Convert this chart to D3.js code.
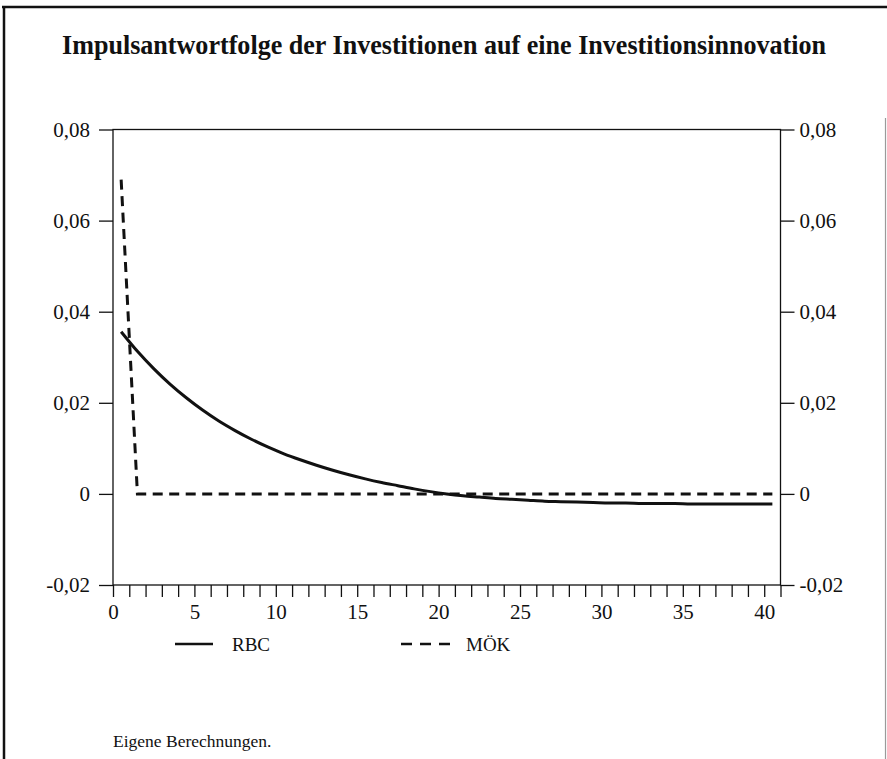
<!DOCTYPE html>
<html>
<head>
<meta charset="utf-8">
<script src="https://cdn.jsdelivr.net/npm/d3@7"></script>
<style>
  html, body { margin: 0; padding: 0; background: #fff; }
  svg { display: block; }
  text { font-family: "Liberation Serif", "Times New Roman", serif; fill: #111; }
</style>
</head>
<body>
<svg id="chart" width="887" height="759"></svg>
<script>
// Periods 0..40, plotted at the centre of each period
const periods = d3.range(0, 41);

// Impulse responses of investment
const rbcValues = [
  0.0356, 0.0313, 0.0275, 0.0241, 0.0211, 0.0184, 0.0160, 0.0139, 0.0120, 0.0103,
  0.0088, 0.0075, 0.0063, 0.0052, 0.0042, 0.0033, 0.0025, 0.0018, 0.0011, 0.0005,
  0.0000, -0.0004, -0.0007, -0.0010, -0.0012, -0.0014, -0.0016, -0.0017, -0.0018, -0.0019,
  -0.0020, -0.0020, -0.0021, -0.0021, -0.0021, -0.0022, -0.0022, -0.0022, -0.0022, -0.0022,
  -0.0022
];
const moekValues = [
  0.069, 0, 0, 0, 0, 0, 0, 0, 0, 0,
  0, 0, 0, 0, 0, 0, 0, 0, 0, 0,
  0, 0, 0, 0, 0, 0, 0, 0, 0, 0,
  0, 0, 0, 0, 0, 0, 0, 0, 0, 0,
  0
];

const yTicks = [-0.02, 0, 0.02, 0.04, 0.06, 0.08];
const xLabelTicks = [0, 5, 10, 15, 20, 25, 30, 35, 40];
const xMinorTicks = d3.range(0, 42);

const titleText = "Impulsantwortfolge der Investitionen auf eine Investitionsinnovation";
const seriesNames = ["RBC", "MÖK"];
const sourceText = "Eigene Berechnungen.";

// German decimal comma, plain hyphen for negatives
const fmt = v => v === 0 ? "0" : d3.format(".2f")(v).replace(".", ",").replace("\u2212", "-");

const svg = d3.select("#chart");

// Frame
svg.append("line").attr("x1", 2).attr("x2", 887).attr("y1", 7).attr("y2", 7)
  .attr("stroke", "#111").attr("stroke-width", 2.5);
svg.append("line").attr("x1", 4).attr("x2", 4).attr("y1", 6).attr("y2", 759)
  .attr("stroke", "#111").attr("stroke-width", 2.5);
svg.append("line").attr("x1", 885.5).attr("x2", 885.5).attr("y1", 118).attr("y2", 759)
  .attr("stroke", "#9a9a9a").attr("stroke-width", 1.2);

// Title, condensed to its width
svg.append("text")
  .attr("x", 444).attr("y", 54)
  .attr("text-anchor", "middle")
  .attr("font-weight", "bold")
  .attr("font-size", 28)
  .attr("textLength", 764)
  .attr("lengthAdjust", "spacingAndGlyphs")
  .text(titleText);

// Scales
const x = d3.scaleLinear().domain([0, 41]).range([113, 780.5]);
const y = d3.scaleLinear().domain([-0.02, 0.08]).range([585, 129.5]);

const axisColor = "#111";
const labelSize = 21;

// Left axis
const leftAxis = d3.axisLeft(y).tickValues(yTicks).tickSize(14).tickPadding(9).tickFormat(fmt);
const gl = svg.append("g").attr("transform", `translate(${x(0)},0)`).call(leftAxis);
// Right axis
const rightAxis = d3.axisRight(y).tickValues(yTicks).tickSize(14).tickPadding(6).tickFormat(fmt);
const gr = svg.append("g").attr("transform", `translate(${x(41)},0)`).call(rightAxis);
[gl, gr].forEach(g => {
  g.select(".domain").remove();
  g.selectAll(".tick line").attr("stroke", axisColor).attr("stroke-width", 1.3);
  g.selectAll(".tick text").attr("font-size", labelSize).attr("font-family", "Liberation Serif, serif").attr("fill", "#111");
});
gr.selectAll(".tick text").attr("x", 19);

// Bottom axis with a tick per period
const bottomAxis = d3.axisBottom(x).tickValues(xMinorTicks).tickSize(12).tickFormat("");
const gb = svg.append("g").attr("transform", `translate(0,${y(-0.02)})`).call(bottomAxis);
gb.select(".domain").remove();
gb.selectAll(".tick line").attr("stroke", axisColor).attr("stroke-width", 1.3);
const labelAxis = d3.axisBottom(x).tickValues(xLabelTicks).tickSize(0).tickPadding(19).tickFormat(d3.format("d"));
const gbl = svg.append("g").attr("transform", `translate(0,${y(-0.02)})`).call(labelAxis);
gbl.select(".domain").remove();
gbl.selectAll(".tick text").attr("font-size", labelSize).attr("font-family", "Liberation Serif, serif").attr("fill", "#111");

// Plot box
svg.append("rect")
  .attr("x", x(0)).attr("y", y(0.08))
  .attr("width", x(41) - x(0)).attr("height", y(-0.02) - y(0.08))
  .attr("fill", "none").attr("stroke", axisColor).attr("stroke-width", 1.3);

// Series
const line = d3.line()
  .x((d, i) => x(periods[i] + 0.5))
  .y(d => y(d));

svg.append("path")
  .datum(rbcValues)
  .attr("d", line.curve(d3.curveMonotoneX))
  .attr("fill", "none").attr("stroke", "#111").attr("stroke-width", 3);

svg.append("path")
  .datum(moekValues)
  .attr("d", line.curve(d3.curveLinear))
  .attr("fill", "none").attr("stroke", "#111").attr("stroke-width", 3)
  .attr("stroke-dasharray", "10,6.5");

// Legend
const lg = svg.append("g");
lg.append("line").attr("x1", 175).attr("x2", 213).attr("y1", 644).attr("y2", 644)
  .attr("stroke", "#111").attr("stroke-width", 2.5);
lg.append("text").attr("x", 232).attr("y", 651).attr("font-size", 19).text(seriesNames[0]);
lg.append("line").attr("x1", 401).attr("x2", 450).attr("y1", 644).attr("y2", 644)
  .attr("stroke", "#111").attr("stroke-width", 2.5).attr("stroke-dasharray", "11,8");
lg.append("text").attr("x", 466).attr("y", 651).attr("font-size", 19).text(seriesNames[1]);

// Source note
svg.append("text").attr("x", 113).attr("y", 747).attr("font-size", 17.5).text(sourceText);
</script>
</body>
</html>
